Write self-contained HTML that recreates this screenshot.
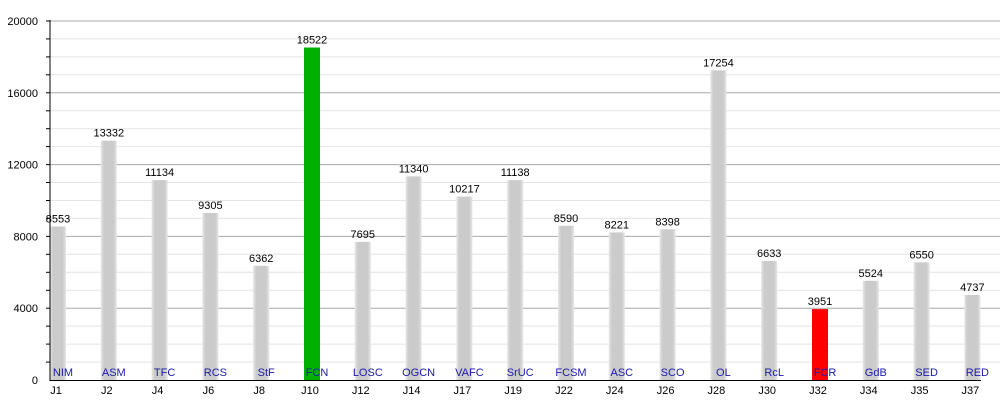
<!DOCTYPE html>
<html><head><meta charset="utf-8"><style>
html,body{margin:0;padding:0;background:#fff;width:1000px;height:400px;overflow:hidden}
svg{display:block;font-family:"Liberation Sans",Arial,sans-serif}
</style></head><body>
<svg id="c" width="1000" height="400" xmlns="http://www.w3.org/2000/svg">
<defs>
<linearGradient id="g" x1="0" x2="1" y1="0" y2="0">
<stop offset="0" stop-color="#e6e6e6"/><stop offset="0.2" stop-color="#cbcbcb"/><stop offset="0.8" stop-color="#cbcbcb"/><stop offset="1" stop-color="#e6e6e6"/>
</linearGradient>
</defs>
</svg>
<script>
var s=document.getElementById('c'),h='';
var y0=380,k=0.01795;
for(var v=1000;v<=20000;v+=1000){var y=(y0-v*k).toFixed(1);var maj=v%4000==0;
h+='<line x1="50" x2="1000" y1="'+y+'" y2="'+y+'" stroke="'+(maj?'#a8a8a8':'#e4e4e4')+'" stroke-width="1"/>';
h+='<line x1="46" x2="50" y1="'+y+'" y2="'+y+'" stroke="#000"/>';
if(maj)h+='<text x="38" y="'+(+y+4)+'" font-size="11" text-anchor="end">'+v+'</text>';}
h+='<text x="38" y="384" font-size="11" text-anchor="end">0</text>';
var d=[["J1","NIM",8553],["J2","ASM",13332],["J4","TFC",11134],["J6","RCS",9305],["J8","StF",6362],["J10","FCN",18522],["J12","LOSC",7695],["J14","OGCN",11340],["J17","VAFC",10217],["J19","SrUC",11138],["J22","FCSM",8590],["J24","ASC",8221],["J26","SCO",8398],["J28","OL",17254],["J30","RcL",6633],["J32","FCR",3951],["J34","GdB",5524],["J35","SED",6550],["J37","RED",4737]];
d.forEach(function(r,i){var c=58+i*50.8,top=y0-r[2]*k;var f=r[1]=="FCN"?'#00b000':r[1]=="FCR"?'#ff0000':'url(#g)';
h+='<rect x="'+(c-8)+'" y="'+top.toFixed(1)+'" width="16" height="'+(y0-top).toFixed(1)+'" fill="'+f+'"/>';
h+='<text x="'+c+'" y="'+(top-4).toFixed(1)+'" font-size="11" text-anchor="middle">'+r[2]+'</text>';
h+='<text x="'+(c+5)+'" y="376" font-size="11" fill="#1a1aa8" text-anchor="middle">'+r[1]+'</text>';
h+='<text x="'+(c-2)+'" y="394" font-size="11" text-anchor="middle">'+r[0]+'</text>';});
h+='<line x1="50" x2="50" y1="20" y2="381" stroke="#000"/><line x1="50" x2="981" y1="380.5" y2="380.5" stroke="#000"/>';
s.insertAdjacentHTML('beforeend',h);
</script>
</body></html>
